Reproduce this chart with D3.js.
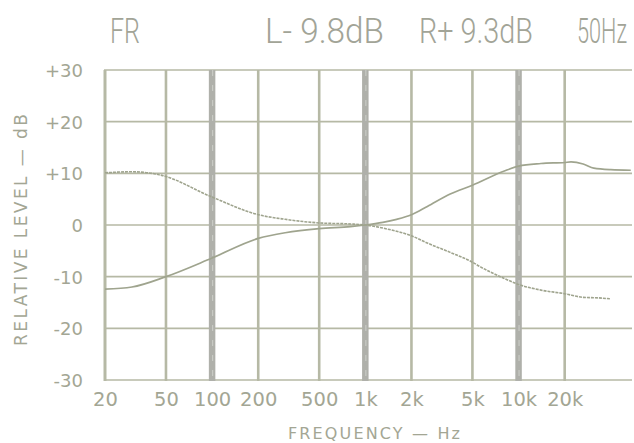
<!DOCTYPE html>
<html><head><meta charset="utf-8">
<script src="https://cdn.jsdelivr.net/npm/d3@7"></script>
<style>
html,body{margin:0;padding:0;background:#fff;}
svg{display:block;}
</style></head>
<body>
<svg id="chart" width="634" height="443"></svg>
<script>
// ---- data ----
const xTickValues = [20, 50, 100, 200, 500, 1000, 2000, 5000, 10000, 20000];
const xTickLabels = ["20", "50", "100", "200", "500", "1k", "2k", "5k", "10k", "20k"];
const majorFreqs = [100, 1000, 10000];
const yTickValues = [30, 20, 10, 0, -10, -20, -30];
const yTickLabels = ["+30", "+20", "+10", "0", "-10", "-20", "-30"];

// Left channel (descending trace)
const leftFreq = [20, 30, 47, 100, 200, 300, 500, 800, 1000, 1400, 2000, 2540, 3580, 5000, 5640, 8000, 10000, 14000, 20000, 26400, 33000, 40000];
const leftDb   = [10.1, 10.3, 9.6, 5.4, 2.0, 1.1, 0.4, 0.2, 0.0, -0.8, -2.1, -3.5, -5.3, -7.2, -8.1, -10.3, -11.5, -12.6, -13.3, -14.0, -14.1, -14.3];
// Right channel (ascending trace)
const rightFreq = [20, 30, 50, 100, 200, 300, 500, 800, 1000, 1300, 1600, 2000, 2540, 3580, 5000, 8000, 10000, 14000, 20000, 22000, 26400, 31000, 40000, 54000];
const rightDb   = [-12.4, -12.0, -10.0, -6.4, -2.6, -1.5, -0.7, -0.3, 0.0, 0.5, 1.1, 2.0, 3.6, 6.0, 7.7, 10.4, 11.4, 11.9, 12.1, 12.2, 11.8, 11.0, 10.7, 10.6];

const titleParts = ["FR", "L- 9.8dB", "R+ 9.3dB", "50Hz"];

// ---- drawing ----
const svg = d3.select("#chart");
const x = d3.scaleLog().domain([20, 55000]).range([105, 632]);
const y = d3.scaleLinear().domain([-30, 30]).range([380, 70]);

const gridCol = "#b6b9a5";
const thickCol = "#afb0aa";
const textCol = "#a3a694";
const curveCol = "#9fa48e";

const g = svg.append("g");

// horizontal grid lines
g.selectAll("line.h").data(yTickValues).join("line")
  .attr("x1", x(20) - 1).attr("x2", 632)
  .attr("y1", d => y(d)).attr("y2", d => y(d))
  .attr("stroke", gridCol).attr("stroke-width", 1.6);

// vertical grid lines
g.selectAll("line.v").data(xTickValues).join("line")
  .attr("x1", d => x(d)).attr("x2", d => x(d))
  .attr("y1", y(30)).attr("y2", y(-30) + 1)
  .attr("stroke", d => majorFreqs.includes(d) ? thickCol : gridCol)
  .attr("stroke-width", d => majorFreqs.includes(d) ? 6.5 : (d === 20 ? 3 : 2.6));

// lighter center stripe on thick lines (scan look)
g.selectAll("line.vc").data(majorFreqs).join("line")
  .attr("x1", d => x(d) + 0.5).attr("x2", d => x(d) + 0.5)
  .attr("y1", y(30)).attr("y2", y(-30))
  .attr("stroke", "#c8cac4").attr("stroke-width", 1.2)
  .attr("stroke-dasharray", "6,9");

// curves
const line = d3.line().x(d => x(d[0])).y(d => y(d[1])).curve(d3.curveMonotoneX);
g.append("path").datum(d3.zip(leftFreq, leftDb))
  .attr("d", line).attr("fill", "none")
  .attr("stroke", curveCol).attr("stroke-width", 1.6)
  .attr("stroke-dasharray", "3,1");
g.append("path").datum(d3.zip(rightFreq, rightDb))
  .attr("d", line).attr("fill", "none")
  .attr("stroke", curveCol).attr("stroke-width", 1.7);

// x axis labels
const xAxis = d3.axisBottom(x).tickValues(xTickValues)
  .tickFormat((d, i) => xTickLabels[i]).tickSize(0).tickPadding(0);
const xa = svg.append("g").attr("transform", "translate(0,392)").call(xAxis);
xa.select(".domain").remove();
xa.selectAll("text").attr("fill", textCol).attr("font-family", "DejaVu Sans")
  .attr("font-size", 19.5).attr("dy", "0.71em");

// y axis labels
const yAxis = d3.axisLeft(y).tickValues(yTickValues)
  .tickFormat((d, i) => yTickLabels[i]).tickSize(0).tickPadding(0);
const ya = svg.append("g").attr("transform", "translate(83,0)").call(yAxis);
ya.select(".domain").remove();
ya.selectAll("text").attr("fill", textCol).attr("font-family", "DejaVu Sans")
  .attr("font-size", 18).attr("dy", "0.36em");

// axis titles
svg.append("text").text("FREQUENCY — Hz")
  .attr("x", 288).attr("y", 439)
  .attr("textLength", 172).attr("lengthAdjust", "spacing")
  .attr("fill", textCol).attr("font-family", "DejaVu Sans").attr("font-size", 16);

svg.append("text").text("RELATIVE LEVEL — dB")
  .attr("transform", "translate(27,346) rotate(-90)")
  .attr("textLength", 232).attr("lengthAdjust", "spacing")
  .attr("fill", textCol).attr("font-family", "DejaVu Sans").attr("font-size", 17);

// title (condensed by horizontal scaling)
const titleX = [110, 265, 419, 577];
const titleW = [30, 119, 114, 50];
svg.selectAll("text.title").data(titleParts).join("text")
  .attr("class", "title")
  .text(d => d)
  .attr("fill", "#a2a497").attr("font-family", "Roboto").attr("font-weight", 300)
  .attr("font-size", 35)
  .each(function(d, i) {
    const w = this.getComputedTextLength();
    const s = titleW[i] / w;
    d3.select(this).attr("transform", `translate(${titleX[i]},43) scale(${s},1)`);
  });
</script>
</body></html>
